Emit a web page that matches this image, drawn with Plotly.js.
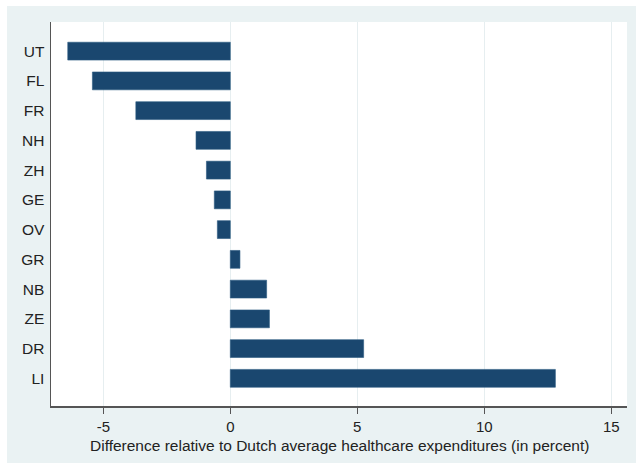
<!DOCTYPE html>
<html>
<head>
<meta charset="utf-8">
<script src="https://cdn.plot.ly/plotly-3.0.1.min.js"></script>
<style>
html,body{margin:0;padding:0;background:#ffffff;}
#chart{position:absolute;left:7px;top:6px;width:629px;height:457px;}
</style>
</head>
<body>
<div id="chart"></div>
<script>
var provinces = ["UT","FL","FR","NH","ZH","GE","OV","GR","NB","ZE","DR","LI"];
var differences = [-6.40,-5.43,-3.72,-1.35,-0.94,-0.63,-0.51,0.38,1.43,1.54,5.25,12.80];
var xTickValues = [-5,0,5,10,15];
var xTitle = "Difference relative to Dutch average healthcare expenditures (in percent)";

var trace = {
  type: "bar",
  orientation: "h",
  x: differences,
  y: provinces,
  width: 0.6,
  marker: {color: "#1a476f", line: {color: "#2b5a82", width: 0.6}},
  hoverinfo: "skip"
};

var layout = {
  width: 629,
  height: 457,
  paper_bgcolor: "#eaf2f3",
  plot_bgcolor: "#ffffff",
  margin: {l: 44, r: 9, t: 16, b: 57},
  showlegend: false,
  font: {family: "Liberation Sans, Arial, sans-serif", size: 15.5, color: "#222222"},
  xaxis: {
    range: [-7.06, 15.62],
    tickvals: xTickValues,
    ticktext: xTickValues.map(String),
    ticks: "outside",
    ticklen: 6,
    tickcolor: "#555555",
    tickwidth: 1,
    showline: true,
    linecolor: "#555555",
    linewidth: 1.5,
    showgrid: true,
    gridcolor: "#e6eef0",
    gridwidth: 1,
    zeroline: false,
    tickfont: {size: 15, color: "#222222"}
  },
  yaxis: {
    type: "category",
    categoryorder: "array",
    categoryarray: provinces,
    range: [11.93, -0.98],
    showline: true,
    linecolor: "#555555",
    linewidth: 1.5,
    showgrid: false,
    zeroline: false,
    ticks: "",
    ticklabelstandoff: 2,
    tickfont: {size: 15.5, color: "#222222"}
  },
  annotations: [{
    text: xTitle,
    xref: "paper", yref: "paper",
    x: 0.5, y: -0.102,
    xanchor: "center", yanchor: "middle",
    showarrow: false,
    font: {size: 15.5, color: "#222222"}
  }]
};

Plotly.newPlot("chart", [trace], layout, {displayModeBar: false, staticPlot: true});
</script>
</body>
</html>
